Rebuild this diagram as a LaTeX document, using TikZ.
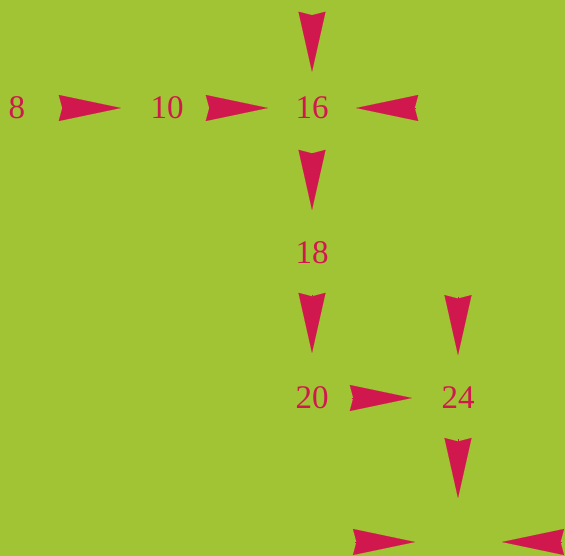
\documentclass[tikz,border=0pt]{standalone}
\usepackage{fontspec}
\setmainfont{Liberation Serif}
\usetikzlibrary{arrows.meta}
\definecolor{paper}{RGB}{160,196,52}
\definecolor{ink}{RGB}{208,24,78}
\begin{document}
\begin{tikzpicture}[x=1pt,y=1pt,font=\fontsize{33}{33}\selectfont,
num/.style={text=ink,inner sep=0pt},
dart/.style={draw=ink,line width=0.1pt,-{Stealth[length=62pt,width=26pt,inset=3.5pt]}},
vdart/.style={draw=ink,line width=0.1pt,-{Stealth[length=60pt,width=27pt,inset=3.5pt]}}]
\fill[paper] (0,0) rectangle (565,556);
\clip (0,0) rectangle (565,556);
\node[num] (n8) at (17,448) {8};
\node[num] (n10) at (167,448) {10};
\node[num] (n16) at (312,448) {16};
\node[num] (n18) at (312,303) {18};
\node[num] (n20) at (312,158) {20};
\node[num] (n24) at (458,158) {24};
\coordinate (top) at (312,544);
\coordinate (right) at (418,448);
\coordinate (over24) at (458,262);
\coordinate (under24) at (458,58);
\coordinate (botl) at (352,14);
\coordinate (botlend) at (415,14);
\coordinate (botr) at (565,14);
\coordinate (botrend) at (502,14);
\draw[dart,shorten <=37pt,shorten >=29.5pt] (n8) -- (n10);
\draw[dart,shorten <=25.5pt,shorten >=27.5pt] (n10) -- (n16);
\draw[vdart,shorten <=3pt,shorten >=25pt] (top) -- (n16);
\draw[dart,shorten <=3pt,shorten >=27.5pt] (right) -- (n16);
\draw[vdart,shorten <=34pt,shorten >=31.8pt] (n16) -- (n18);
\draw[vdart,shorten <=31pt,shorten >=33.8pt] (n18) -- (n20);
\draw[vdart,shorten <=3pt,shorten >=31.8pt] (over24) -- (n24);
\draw[dart,shorten <=23pt,shorten >=29.5pt] (n20) -- (n24);
\draw[vdart,shorten <=30pt] (n24) -- (under24);
\draw[dart,shorten <=3pt] (botl) -- (botlend);
\draw[dart,shorten <=3pt] (botr) -- (botrend);
\end{tikzpicture}
\end{document}
